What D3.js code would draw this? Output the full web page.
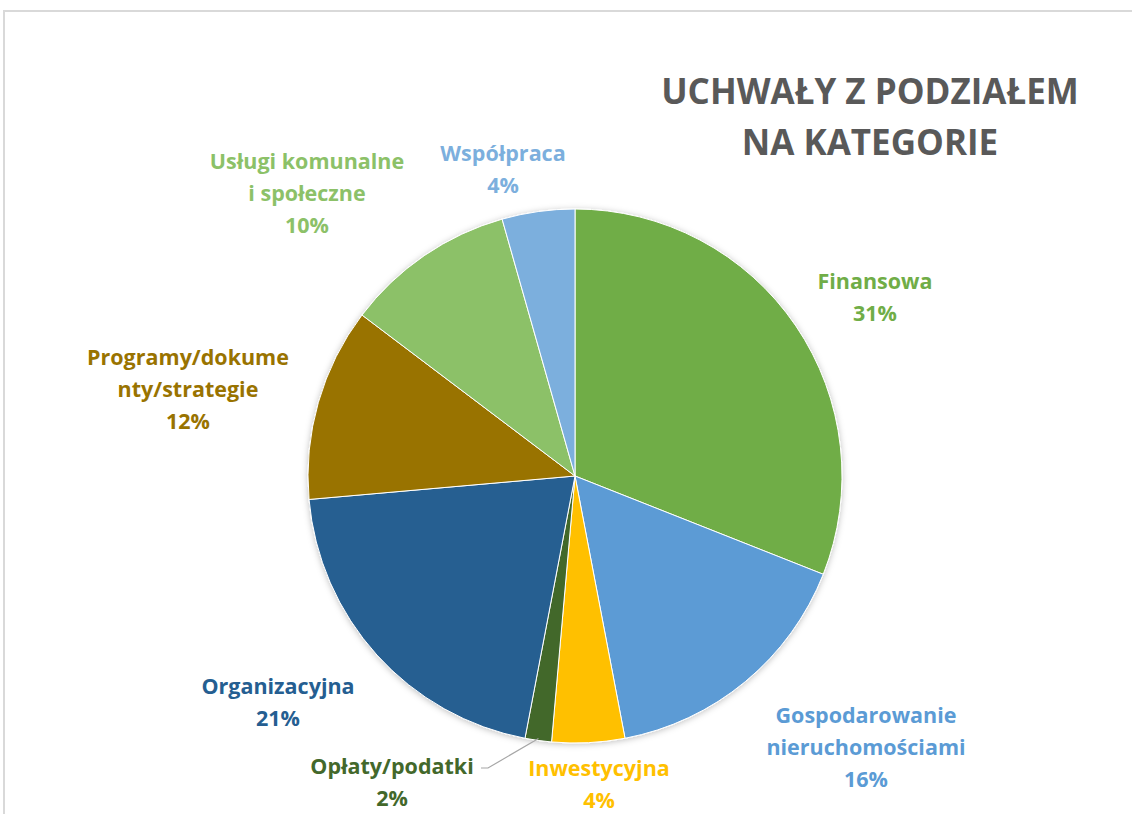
<!DOCTYPE html>
<html>
  <head>
    <meta charset="utf-8">
    <title>Uchwały z podziałem na kategorie</title>
    <script src="https://cdn.jsdelivr.net/npm/d3@7"></script>
    <style type="text/css">

html, body {
  margin: 0;
  background: #fff;
}

svg {
  display: block;
  font-family: "Open Sans", sans-serif;
  font-weight: 700;
}

.frame {
  fill: none;
  stroke: #d9d9d9;
  stroke-width: 2;
}

.title {
  fill: #595959;
  font-size: 35px;
  text-anchor: middle;
}

.label {
  font-size: 21.5px;
  text-anchor: middle;
}

    </style>
  </head>
  <body>
    <script type="text/javascript">

// slice order runs clockwise from 12 o'clock
var categories = ["Finansowa", "Gospodarowanie nieruchomościami", "Inwestycyjna", "Opłaty/podatki",
                  "Organizacyjna", "Programy/dokumenty/strategie", "Usługi komunalne i społeczne", "Współpraca"];
var shares = [31.0, 16.0, 4.4, 1.6, 20.6, 11.7, 10.3, 4.4];
var labelLines = [
  ["Finansowa"],
  ["Gospodarowanie", "nieruchomościami"],
  ["Inwestycyjna"],
  ["Opłaty/podatki"],
  ["Organizacyjna"],
  ["Programy/dokume", "nty/strategie"],
  ["Usługi komunalne", "i społeczne"],
  ["Współpraca"]
];
var colors = ["#70ad47", "#5b9bd5", "#ffc000", "#43682b", "#255e91", "#997300", "#8cc168", "#7cafdd"];
var titleLines = ["UCHWAŁY Z PODZIAŁEM", "NA KATEGORIE"];

var width = 1132, height = 814;
var cx = 575, cy = 476, radius = 267;

// where each label block sits (first line baseline)
var labelPos = [[875, 289], [866, 723], [599, 776], [392, 774], [278, 694], [188, 365], [307, 169], [503, 161]];
var lineHeight = 32;

var svg = d3.select("body").append("svg")
    .attr("width", width)
    .attr("height", height);

var defs = svg.append("defs");
var shadow = defs.append("filter").attr("id", "shadow")
    .attr("x", "-10%").attr("y", "-10%").attr("width", "120%").attr("height", "120%");
shadow.append("feDropShadow")
    .attr("dx", 0).attr("dy", 1).attr("stdDeviation", 3)
    .attr("flood-color", "#000").attr("flood-opacity", 0.25);

svg.append("path")
    .attr("class", "frame")
    .attr("d", "M4," + height + "V11H" + width);

var pie = d3.pie().sort(null).value(function(d) { return d; });
var arc = d3.arc().innerRadius(0).outerRadius(radius);
var arcs = pie(shares);

var g = svg.append("g")
    .attr("transform", "translate(" + cx + "," + cy + ")");

g.append("g")
    .attr("filter", "url(#shadow)")
  .selectAll("path")
    .data(arcs)
  .enter().append("path")
    .attr("d", arc)
    .attr("fill", function(d, i) { return colors[i]; })
    .attr("stroke", "#fff")
    .attr("stroke-width", 1);

// leader line for the thin Opłaty/podatki slice
var opl = arcs[3];
var edge = d3.arc().innerRadius(radius - 2).outerRadius(radius - 2).centroid(opl);
svg.append("polyline")
    .attr("points", [[481, 768], [488, 768], [cx + edge[0], cy + edge[1]]].join(" "))
    .attr("fill", "none")
    .attr("stroke", "#a6a6a6")
    .attr("stroke-width", 1.2);

var labels = svg.append("g").selectAll("text")
    .data(arcs)
  .enter().append("text")
    .attr("class", "label")
    .attr("fill", function(d, i) { return colors[i]; })
    .attr("x", function(d, i) { return labelPos[i][0]; })
    .attr("y", function(d, i) { return labelPos[i][1]; });

labels.each(function(d, i) {
  var t = d3.select(this);
  var lines = labelLines[i].concat([Math.round(shares[i]) + "%"]);
  lines.forEach(function(s, j) {
    t.append("tspan")
        .attr("x", labelPos[i][0])
        .attr("dy", j === 0 ? 0 : lineHeight)
        .text(s);
  });
});

svg.append("g").selectAll("text")
    .data(titleLines)
  .enter().append("text")
    .attr("class", "title")
    .attr("x", 870)
    .attr("y", function(d, i) { return 104 + i * 51; })
    .text(function(d) { return d; });

    </script>
  </body>
</html>
